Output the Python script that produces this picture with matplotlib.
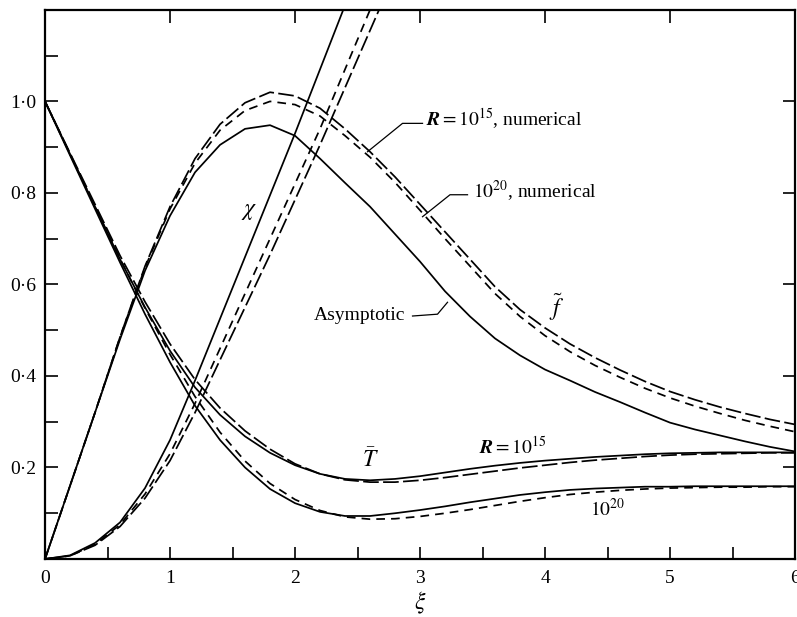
import matplotlib
matplotlib.use("Agg")
import matplotlib.pyplot as plt
from matplotlib.ticker import FixedLocator, FixedFormatter

plt.rcParams['font.family'] = ['Liberation Serif', 'DejaVu Serif']
plt.rcParams['mathtext.fontset'] = 'stix'

# xi grid for f and T curves
xi = [0.0, 0.2, 0.4, 0.6, 0.8, 1.0, 1.2, 1.4, 1.6, 1.8, 2.0, 2.2, 2.4, 2.6, 2.8,
      3.0, 3.2, 3.4, 3.6, 3.8, 4.0, 4.2, 4.4, 4.6, 4.8, 5.0, 5.2, 5.4, 5.6, 5.8, 6.0]

# f~ : asymptotic and numerical solutions
f_asym = [0.0, 0.16, 0.32, 0.48, 0.63, 0.75, 0.845, 0.905, 0.94, 0.948, 0.925, 0.875,
          0.822, 0.77, 0.71, 0.65, 0.585, 0.53, 0.482, 0.445, 0.414, 0.39, 0.365,
          0.343, 0.32, 0.298, 0.283, 0.27, 0.257, 0.245, 0.235]
f_r15 = [0.0, 0.16, 0.32, 0.485, 0.64, 0.77, 0.875, 0.95, 0.997, 1.02, 1.012, 0.985,
         0.94, 0.89, 0.835, 0.775, 0.715, 0.655, 0.595, 0.545, 0.505, 0.47, 0.44,
         0.413, 0.388, 0.366, 0.348, 0.332, 0.318, 0.305, 0.294]
f_r20 = [0.0, 0.16, 0.32, 0.485, 0.637, 0.765, 0.865, 0.937, 0.98, 1.0, 0.993, 0.968,
         0.925, 0.878, 0.823, 0.762, 0.7, 0.64, 0.58, 0.53, 0.488, 0.453, 0.423,
         0.397, 0.373, 0.352, 0.334, 0.318, 0.303, 0.29, 0.278]

# T bar : asymptotic (solid) and numerical (dashed), R = 1e15 and 1e20
T_asym_r15 = [1.0, 0.885, 0.77, 0.655, 0.55, 0.455, 0.375, 0.315, 0.268, 0.232, 0.205,
              0.186, 0.175, 0.172, 0.175, 0.181, 0.189, 0.197, 0.204, 0.21, 0.215,
              0.219, 0.223, 0.226, 0.229, 0.231, 0.232, 0.233, 0.233, 0.233, 0.233]
T_num_r15 = [1.0, 0.887, 0.775, 0.663, 0.562, 0.47, 0.392, 0.33, 0.28, 0.24, 0.208,
             0.186, 0.173, 0.168, 0.168, 0.172, 0.178, 0.185, 0.192, 0.199, 0.205,
             0.211, 0.216, 0.22, 0.224, 0.227, 0.229, 0.23, 0.231, 0.232, 0.232]
T_asym_r20 = [1.0, 0.882, 0.765, 0.648, 0.535, 0.43, 0.335, 0.26, 0.2, 0.153, 0.122,
              0.103, 0.094, 0.094, 0.1, 0.107, 0.115, 0.124, 0.132, 0.14, 0.146,
              0.151, 0.154, 0.156, 0.158, 0.158, 0.159, 0.159, 0.159, 0.159, 0.159]
T_num_r20 = [1.0, 0.885, 0.77, 0.656, 0.548, 0.447, 0.355, 0.277, 0.214, 0.165, 0.13,
             0.106, 0.092, 0.087, 0.088, 0.093, 0.1, 0.108, 0.117, 0.126, 0.134,
             0.141, 0.146, 0.15, 0.153, 0.155, 0.156, 0.157, 0.157, 0.158, 0.158]

# chi : climbs out through the top of the frame
xi_chi = [0.0, 0.2, 0.4, 0.6, 0.8, 1.0, 1.2, 1.4, 1.6, 1.8, 2.0, 2.2, 2.4, 2.6, 2.8]
chi_asym = [0.0, 0.008, 0.035, 0.08, 0.155, 0.26, 0.39, 0.525, 0.66, 0.795, 0.93,
            1.07, 1.21, 1.35, 1.49]
chi_r20 = [0.0, 0.007, 0.032, 0.075, 0.142, 0.23, 0.34, 0.46, 0.58, 0.7, 0.82,
           0.94, 1.07, 1.2, 1.33]
chi_r15 = [0.0, 0.007, 0.03, 0.071, 0.133, 0.215, 0.32, 0.435, 0.55, 0.665, 0.785,
           0.905, 1.03, 1.155, 1.28]

x_major = [0, 1, 2, 3, 4, 5, 6]
x_minor = [0.5, 1.5, 2.5, 3.5, 4.5, 5.5]
y_major = [0.2, 0.4, 0.6, 0.8, 1.0]
y_labels = ['0·2', '0·4', '0·6', '0·8', '1·0']
y_minor = [0.1, 0.3, 0.5, 0.7, 0.9, 1.1]

fig = plt.figure(figsize=(7.97, 6.17), dpi=100)
ax = fig.add_axes([0.0565, 0.094, 0.941, 0.890])

lw = 1.25
long_dash = (0, (9, 2.5))
short_dash = (0, (5, 3.5))

ax.plot(xi, f_asym, color='black', lw=lw)
ax.plot(xi, f_r15, color='black', lw=lw, linestyle=long_dash)
ax.plot(xi, f_r20, color='black', lw=lw, linestyle=short_dash)

ax.plot(xi, T_asym_r15, color='black', lw=lw)
ax.plot(xi, T_num_r15, color='black', lw=lw, linestyle=long_dash)
ax.plot(xi, T_asym_r20, color='black', lw=lw)
ax.plot(xi, T_num_r20, color='black', lw=lw, linestyle=short_dash)

ax.plot(xi_chi, chi_asym, color='black', lw=lw)
ax.plot(xi_chi, chi_r20, color='black', lw=lw, linestyle=short_dash)
ax.plot(xi_chi, chi_r15, color='black', lw=lw, linestyle=long_dash)

ax.set_xlim(0, 6)
ax.set_ylim(0, 1.2)

ax.xaxis.set_major_locator(FixedLocator(x_major))
ax.xaxis.set_minor_locator(FixedLocator(x_minor))
ax.yaxis.set_major_locator(FixedLocator(y_major))
ax.yaxis.set_major_formatter(FixedFormatter(y_labels))
ax.yaxis.set_minor_locator(FixedLocator(y_minor))

ax.tick_params(which='both', direction='in', length=9, width=1.2, labelsize=14)
ax.tick_params(which='major', top=True, right=True)
ax.tick_params(axis='x', pad=8)
ax.tick_params(axis='y', pad=6)
for s in ax.spines.values():
    s.set_linewidth(1.6)

ax.set_xlabel(r'$\xi$', fontsize=17, labelpad=2)

fs = 14
ax.text(1.63, 0.76, r'$\chi$', fontsize=17, ha='center', va='center')
ax.text(4.09, 0.55, r'$\tilde{f}$', fontsize=17, ha='center', va='center')
ax.text(2.6, 0.215, r'$\bar{T}$', fontsize=17, ha='center', va='center')
ax.text(3.74, 0.245, r'$\mathbfit{R} = 10^{15}$', fontsize=fs, ha='center', va='center')
ax.text(4.5, 0.11, r'$10^{20}$', fontsize=fs, ha='center', va='center')

ax.text(3.05, 0.962, r'$\mathbfit{R} = 10^{15}$, numerical', fontsize=fs,
        ha='left', va='center')
ax.plot([3.02, 2.86, 2.58], [0.952, 0.952, 0.89], color='black', lw=0.9)
ax.text(3.42, 0.805, r'$10^{20}$, numerical', fontsize=fs, ha='left', va='center')
ax.plot([3.38, 3.24, 3.02], [0.796, 0.796, 0.748], color='black', lw=0.9)
ax.text(2.88, 0.532, 'Asymptotic', fontsize=fs, ha='right', va='center')
ax.plot([2.94, 3.14, 3.22], [0.531, 0.535, 0.561], color='black', lw=0.9)

fig.savefig('out.png', dpi=100)
